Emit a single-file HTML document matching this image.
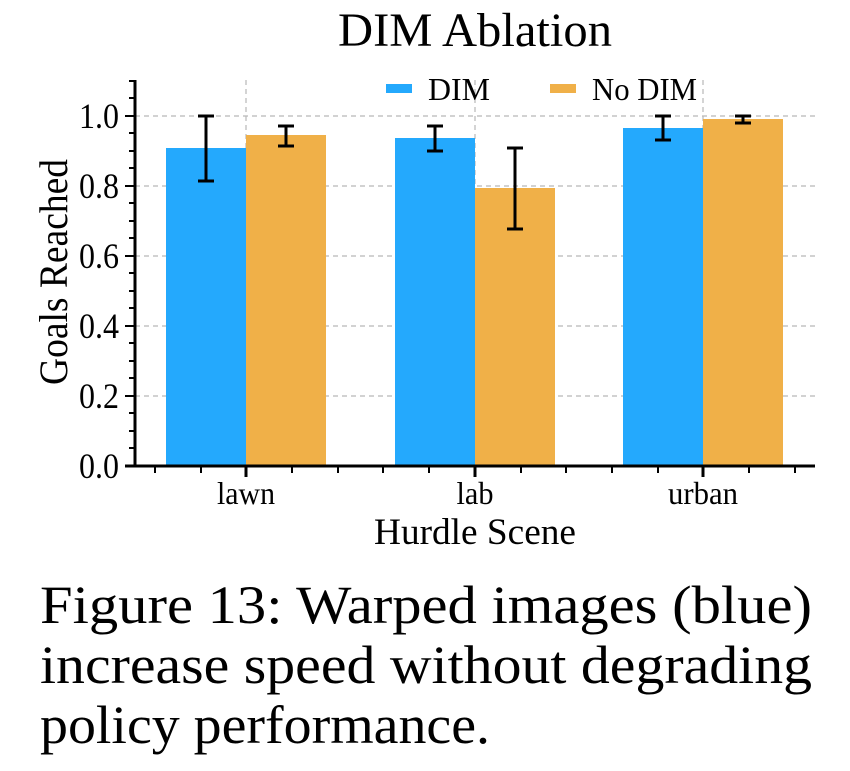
<!DOCTYPE html>
<html><head><meta charset="utf-8"><style>
html,body{margin:0;padding:0;background:#fff;}
svg{display:block;font-family:"Liberation Serif","Times New Roman",serif;}
</style></head><body>
<svg width="850" height="771" viewBox="0 0 850 771" xmlns="http://www.w3.org/2000/svg">
<rect width="850" height="771" fill="#fff"/>
<text x="475" y="46" font-size="48" text-anchor="middle" textLength="274" lengthAdjust="spacingAndGlyphs">DIM Ablation</text>
<g stroke="#b8b8b8" stroke-width="1.2" stroke-dasharray="5,4">
<line x1="135" x2="815" y1="116" y2="116"/>
<line x1="135" x2="815" y1="186" y2="186"/>
<line x1="135" x2="815" y1="256" y2="256"/>
<line x1="135" x2="815" y1="326" y2="326"/>
<line x1="135" x2="815" y1="396" y2="396"/>
<line x1="246" x2="246" y1="80" y2="466"/>
<line x1="475" x2="475" y1="80" y2="466"/>
<line x1="703" x2="703" y1="80" y2="466"/>
</g>
<g>
<rect x="166" y="148" width="80" height="318" fill="#24a9fd"/>
<rect x="246" y="135" width="80" height="331" fill="#f0b048"/>
<rect x="395" y="138" width="80" height="328" fill="#24a9fd"/>
<rect x="475" y="188" width="80" height="278" fill="#f0b048"/>
<rect x="623" y="128" width="80" height="338" fill="#24a9fd"/>
<rect x="703" y="119" width="80" height="347" fill="#f0b048"/>
</g>
<g stroke="#000" stroke-width="3">
<line x1="206" x2="206" y1="116" y2="181"/><line x1="198" x2="214" y1="116" y2="116"/><line x1="198" x2="214" y1="181" y2="181"/>
<line x1="286" x2="286" y1="126" y2="146"/><line x1="278" x2="294" y1="126" y2="126"/><line x1="278" x2="294" y1="146" y2="146"/>
<line x1="435" x2="435" y1="126" y2="151"/><line x1="427" x2="443" y1="126" y2="126"/><line x1="427" x2="443" y1="151" y2="151"/>
<line x1="515" x2="515" y1="148" y2="229"/><line x1="507" x2="523" y1="148" y2="148"/><line x1="507" x2="523" y1="229" y2="229"/>
<line x1="663" x2="663" y1="116" y2="140"/><line x1="655" x2="671" y1="116" y2="116"/><line x1="655" x2="671" y1="140" y2="140"/>
<line x1="743" x2="743" y1="116" y2="123"/><line x1="735" x2="751" y1="116" y2="116"/><line x1="735" x2="751" y1="123" y2="123"/>
</g>
<g stroke="#000">
<line x1="135" x2="135" y1="80" y2="467" stroke-width="3"/>
<line x1="125" x2="815" y1="466" y2="466" stroke-width="3"/>
<g stroke-width="2">
<line x1="125" x2="135" y1="116" y2="116"/><line x1="125" x2="135" y1="186" y2="186"/><line x1="125" x2="135" y1="256" y2="256"/><line x1="125" x2="135" y1="326" y2="326"/><line x1="125" x2="135" y1="396" y2="396"/>
<line x1="129" x2="135" y1="81" y2="81"/><line x1="129" x2="135" y1="98" y2="98"/><line x1="129" x2="135" y1="133" y2="133"/><line x1="129" x2="135" y1="151" y2="151"/><line x1="129" x2="135" y1="168" y2="168"/><line x1="129" x2="135" y1="203" y2="203"/><line x1="129" x2="135" y1="221" y2="221"/><line x1="129" x2="135" y1="238" y2="238"/><line x1="129" x2="135" y1="273" y2="273"/><line x1="129" x2="135" y1="291" y2="291"/><line x1="129" x2="135" y1="308" y2="308"/><line x1="129" x2="135" y1="343" y2="343"/><line x1="129" x2="135" y1="361" y2="361"/><line x1="129" x2="135" y1="378" y2="378"/><line x1="129" x2="135" y1="413" y2="413"/><line x1="129" x2="135" y1="431" y2="431"/><line x1="129" x2="135" y1="448" y2="448"/>
<line x1="155" x2="155" y1="466" y2="473"/><line x1="201" x2="201" y1="466" y2="473"/><line x1="292" x2="292" y1="466" y2="473"/><line x1="338" x2="338" y1="466" y2="473"/><line x1="383" x2="383" y1="466" y2="473"/><line x1="429" x2="429" y1="466" y2="473"/><line x1="521" x2="521" y1="466" y2="473"/><line x1="566" x2="566" y1="466" y2="473"/><line x1="612" x2="612" y1="466" y2="473"/><line x1="658" x2="658" y1="466" y2="473"/><line x1="749" x2="749" y1="466" y2="473"/><line x1="795" x2="795" y1="466" y2="473"/>
</g>
<g stroke-width="3">
<line x1="246" x2="246" y1="466" y2="477"/><line x1="475" x2="475" y1="466" y2="477"/><line x1="703" x2="703" y1="466" y2="477"/>
</g>
</g>
<g font-size="36" text-anchor="end">
<text x="119" y="128" textLength="40" lengthAdjust="spacingAndGlyphs">1.0</text>
<text x="119" y="198" textLength="40" lengthAdjust="spacingAndGlyphs">0.8</text>
<text x="119" y="268" textLength="40" lengthAdjust="spacingAndGlyphs">0.6</text>
<text x="119" y="338" textLength="40" lengthAdjust="spacingAndGlyphs">0.4</text>
<text x="119" y="408" textLength="40" lengthAdjust="spacingAndGlyphs">0.2</text>
<text x="119" y="478" textLength="40" lengthAdjust="spacingAndGlyphs">0.0</text>
</g>
<text transform="translate(67,272) rotate(-90)" font-size="40" text-anchor="middle" textLength="226" lengthAdjust="spacingAndGlyphs">Goals Reached</text>
<g font-size="32" text-anchor="middle">
<text x="246" y="504" textLength="58" lengthAdjust="spacingAndGlyphs">lawn</text>
<text x="475" y="504" textLength="37" lengthAdjust="spacingAndGlyphs">lab</text>
<text x="703" y="504" textLength="70" lengthAdjust="spacingAndGlyphs">urban</text>
</g>
<text x="475" y="544" font-size="37" text-anchor="middle" textLength="202" lengthAdjust="spacingAndGlyphs">Hurdle Scene</text>
<rect x="386" y="84" width="26" height="9" fill="#24a9fd"/>
<text x="428" y="100" font-size="32" textLength="62" lengthAdjust="spacingAndGlyphs">DIM</text>
<rect x="550" y="84" width="26" height="9" fill="#f0b048"/>
<text x="592" y="100" font-size="32" textLength="105" lengthAdjust="spacingAndGlyphs">No DIM</text>
<g font-size="54">
<text x="40" y="623" textLength="772" lengthAdjust="spacingAndGlyphs">Figure 13:  Warped images (blue)</text>
<text x="40" y="683" textLength="772" lengthAdjust="spacingAndGlyphs">increase speed without degrading</text>
<text x="40" y="743" textLength="450" lengthAdjust="spacingAndGlyphs">policy performance.</text>
</g>
</svg>
</body></html>
